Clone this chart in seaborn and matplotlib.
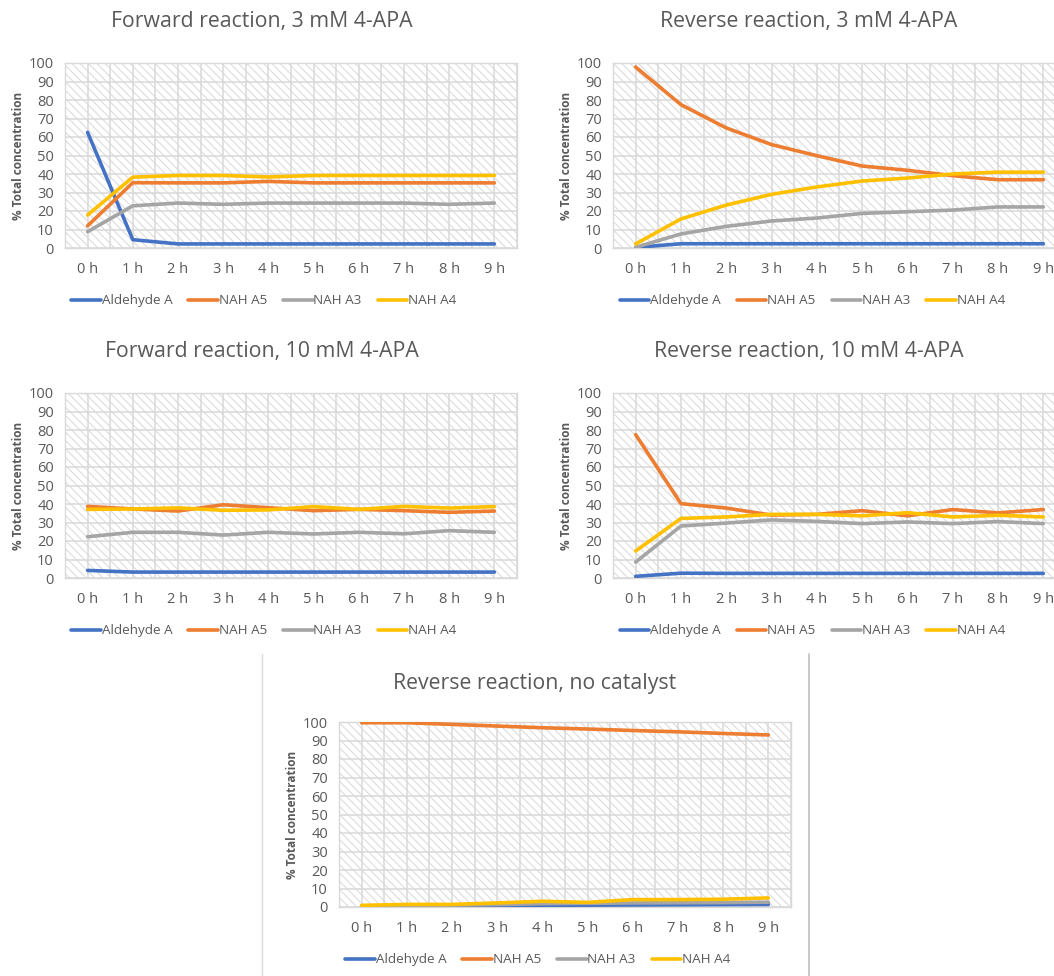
import matplotlib

matplotlib.use("Agg")
import matplotlib.pyplot as plt
import pandas as pd
import seaborn as sns
from matplotlib.lines import Line2D
from matplotlib.patches import Rectangle

# data (% of total concentration)
hours = ["0 h", "1 h", "2 h", "3 h", "4 h", "5 h", "6 h", "7 h", "8 h", "9 h"]
series_names = ["Aldehyde A", "NAH A5", "NAH A3", "NAH A4"]

fwd3_ald = [62.5, 4.5, 2.2, 2.2, 2.2, 2.2, 2.2, 2.2, 2.2, 2.2]
fwd3_a5 = [12, 35.3, 35.2, 35.2, 36, 35.2, 35.2, 35.2, 35.2, 35.2]
fwd3_a3 = [8.8, 22.8, 24.3, 23.6, 24.3, 24.3, 24.3, 24.3, 23.6, 24.3]
fwd3_a4 = [17.8, 38.3, 39.2, 39.2, 38.4, 39.2, 39.2, 39.2, 39.2, 39.2]

rev3_ald = [0.3, 2.3, 2.3, 2.3, 2.3, 2.3, 2.3, 2.3, 2.3, 2.3]
rev3_a5 = [97.8, 77.5, 64.9, 55.9, 49.9, 44.3, 42, 39.1, 36.9, 36.9]
rev3_a3 = [0.4, 7.6, 11.7, 14.6, 16.2, 18.7, 19.6, 20.5, 22.2, 22.2]
rev3_a4 = [2.2, 15.7, 23.2, 29.0, 33.0, 36.2, 37.8, 40.0, 41, 41]

fwd10_ald = [4.1, 3.2, 3.2, 3.2, 3.2, 3.2, 3.2, 3.2, 3.2, 3.2]
fwd10_a5 = [38.7, 37.3, 36.2, 39.6, 38.0, 36.4, 37.1, 36.4, 35.5, 36.2]
fwd10_a4 = [37.1, 37.3, 37.9, 36.6, 36.8, 38.6, 37.1, 38.7, 37.8, 38.6]
fwd10_a3 = [22.3, 24.7, 24.7, 23.2, 24.7, 23.8, 24.7, 23.9, 25.6, 24.7]

rev10_ald = [0.9, 2.6, 2.5, 2.5, 2.5, 2.5, 2.5, 2.5, 2.5, 2.5]
rev10_a5 = [77.5, 40.2, 37.8, 34.0, 34.4, 36.4, 33.6, 37.0, 35.2, 37.0]
rev10_a3 = [8.6, 28.1, 29.7, 31.4, 30.6, 29.4, 30.3, 29.4, 30.5, 29.4]
rev10_a4 = [14.6, 32.2, 33.0, 34.4, 34.4, 33.6, 35.3, 33.0, 33.9, 33.0]

noc_ald = [0.2, 0.4, 0.5, 0.7, 0.9, 1.0, 1.1, 1.2, 1.3, 1.4]
noc_a5 = [99.6, 99.6, 98.7, 97.8, 96.9, 96.2, 95.4, 94.7, 93.8, 93.0]
noc_a3 = [0.4, 0.8, 1.0, 1.3, 1.8, 2.0, 2.2, 2.3, 2.4, 2.6]
noc_a4 = [0.9, 1.4, 1.4, 2.2, 3.1, 2.5, 4.0, 4.0, 4.2, 4.9]

panels = [
    ("Forward reaction, 3 mM 4-APA", [fwd3_ald, fwd3_a5, fwd3_a3, fwd3_a4]),
    ("Reverse reaction, 3 mM 4-APA", [rev3_ald, rev3_a5, rev3_a3, rev3_a4]),
    ("Forward reaction, 10 mM 4-APA", [fwd10_ald, fwd10_a5, fwd10_a3, fwd10_a4]),
    ("Reverse reaction, 10 mM 4-APA", [rev10_ald, rev10_a5, rev10_a3, rev10_a4]),
    ("Reverse reaction, no catalyst", [noc_ald, noc_a5, noc_a3, noc_a4]),
]

colors = ["#4472C4", "#ED7D31", "#A5A5A5", "#FFC000"]
text_gray = "#595959"
grid_gray = "#D9D9D9"

W, H = 1054, 976
# plot-area boxes in pixels: left, top, right, bottom
boxes = [
    (65, 63, 517, 248),
    (613, 63, 1066, 248),
    (65, 393, 517, 578),
    (613, 393, 1066, 578),
    (339, 722, 791, 907),
]
title_pos = [(262, 22), (809, 22), (262, 352), (809, 352), (535, 683)]

sns.set_theme(style="white")
plt.rcParams["font.family"] = ["Open Sans", "DejaVu Sans"]
plt.rcParams["hatch.linewidth"] = 0.7

fig = plt.figure(figsize=(W / 100, H / 100), dpi=100)

for (title, values), (l, t, r, b), (tx, ty) in zip(panels, boxes, title_pos):
    ax = fig.add_axes([l / W, 1 - b / H, (r - l) / W, (b - t) / H])
    rows = []
    for name, vals in zip(series_names, values):
        for i, v in enumerate(vals):
            rows.append({"t": i, "value": v, "series": name})
    df = pd.DataFrame(rows)

    # hatched plot area
    ax.add_patch(Rectangle((0, 0), 1, 1, transform=ax.transAxes, facecolor="white",
                           edgecolor=grid_gray, hatch="\\\\\\\\", linewidth=0, zorder=0))
    for y in range(0, 101, 10):
        ax.axhline(y, color=grid_gray, lw=1.1, zorder=1)
    for k in range(21):
        ax.axvline(-0.5 + 0.5 * k, color=grid_gray, lw=1.1, zorder=1)

    sns.lineplot(data=df, x="t", y="value", hue="series", hue_order=series_names,
                 palette=colors, linewidth=2.6, legend=False, ax=ax, zorder=3)

    ax.set_xlim(-0.5, 9.5)
    ax.set_ylim(0, 100)
    ax.set_xticks(range(10))
    ax.set_xticklabels(hours)
    ax.set_yticks(range(0, 101, 10))
    ax.tick_params(axis="both", length=0, labelsize=10.5, labelcolor=text_gray)
    ax.tick_params(axis="x", pad=10)
    ax.tick_params(axis="y", pad=8)
    for s in ax.spines.values():
        s.set_color(grid_gray)
        s.set_linewidth(1.0)
    ax.set_xlabel("")
    ax.set_ylabel("% Total concentration", fontsize=8.5, fontweight="bold",
                  color=text_gray, labelpad=3)

    fig.text(tx / W, 1 - ty / H, title, ha="center", va="center",
             fontsize=15.3, color=text_gray)

    handles = [Line2D([], [], color=c, lw=2.6) for c in colors]
    ax.legend(handles, series_names, loc="center", bbox_to_anchor=(0.44, -0.285),
              ncol=4, frameon=False, fontsize=9.7, handlelength=2.2,
              handletextpad=0.05, columnspacing=1.2, labelcolor=text_gray)

# frame lines around bottom chart
fig.add_artist(Line2D([262 / W, 262 / W], [0, 1 - 654 / H], color="#D9D9D9", lw=1))
fig.add_artist(Line2D([809 / W, 809 / W], [0, 1 - 654 / H], color="#BFBFBF", lw=1.2))

fig.savefig("out.png", dpi=100)
plt.close(fig)
